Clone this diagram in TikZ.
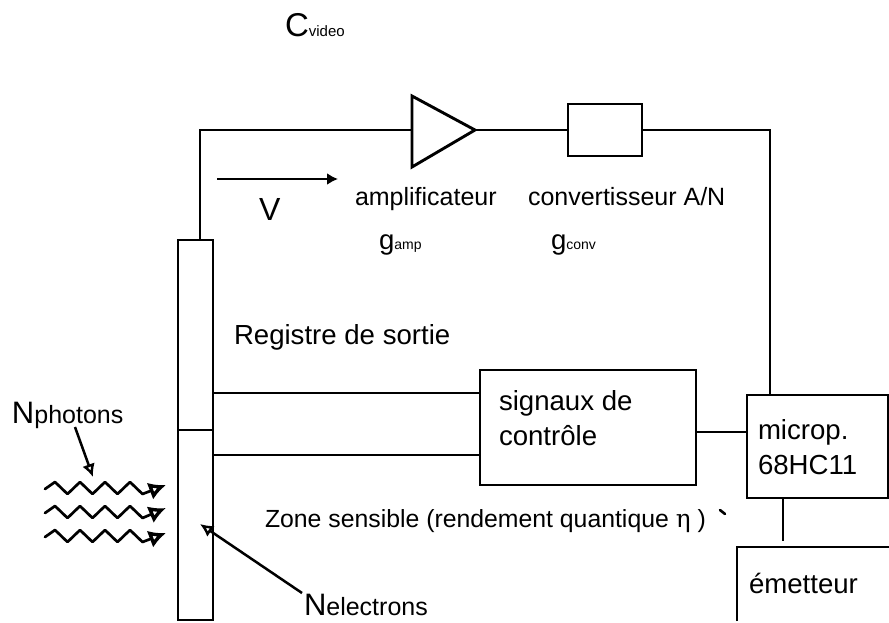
\documentclass[tikz,border=0pt]{standalone}
\usepackage{fontspec}
\setmainfont{Liberation Sans}
\usetikzlibrary{arrows.meta,calc}
\tikzset{
  wire/.style={line width=2.3pt,line join=miter},
  blockbox/.style={draw,line width=2.5pt,rectangle,inner sep=0,outer sep=0},
  lab/.style={inner sep=0,outer sep=0,anchor=base west,font=\fontsize{25}{30}\selectfont},
  biglab/.style={lab,font=\fontsize{27.6}{30}\selectfont},
  big/.style={lab,font=\fontsize{33}{36}\selectfont},
  small/.style={lab,font=\fontsize{15}{20}\selectfont},
  wave/.style={line width=2.7pt,line join=round,line cap=round,-{Latex[open,length=17pt,width=18pt,line width=3.4pt]}},
  pointer/.style={line width=2.5pt,-{Latex[open,length=13pt,width=13pt,line width=2.4pt]}},
}
\newcommand{\zz}[2]{\draw[wave] (#1) -- ++(10,-7) -- ++(12.5,12) -- ++(12.5,-12) -- ++(12.5,12) -- ++(12.5,-12) -- ++(12.5,12) -- ++(12.5,-12) -- ++(12.5,12) -- (#2);}
\begin{document}
\begin{tikzpicture}[x=1pt,y=-1pt,every node/.style={text=black}]
\useasboundingbox (0,0) rectangle (889,622);
% bar
\node[blockbox,minimum width=35pt,minimum height=380pt] (bar) at (195.5,430) {};
\draw[line width=1.8pt] (bar.west) -- (bar.east);
% amplifier
\coordinate (ampA) at (412,96);
\coordinate (ampB) at (412,167);
\coordinate (ampOut) at (475,130);
\coordinate (ampIn) at (412,130);
\draw[line width=2.9pt,line join=miter] (ampA) -- (ampOut) -- (ampB) -- cycle;
\node[blockbox,minimum width=74pt,minimum height=52pt] (conv) at (605,130) {};
\node[blockbox,minimum width=216pt,minimum height=115pt] (sig) at (588,427.5) {};
\node[blockbox,minimum width=141pt,minimum height=103pt] (micro) at (817.5,446.5) {};
% emitter (open at the image edges)
\coordinate (emA) at (737,621);
\coordinate (emB) at (737,547);
\coordinate (emC) at (889,547);
\draw[line width=2.5pt] (emA) -- (emB) -- (emC);
% wires
\coordinate (barTop) at (200,240);
\coordinate (microTop) at (770,395);
\coordinate (microBot) at (783,498);
\coordinate (emTop) at (783,541);
\draw[wire] (barTop) -- (200,130) -- (ampIn);
\draw[wire] (ampOut) -- (conv.west);
\draw[wire] (conv.east) -- (770,130) -- (microTop);
\draw[wire] (213,393) -- (480,393);
\draw[wire] (213,455) -- (480,455);
\draw[wire] (sig.east |- 0,432) -- (micro.west |- 0,432);
\draw[wire] (microBot) -- (emTop);
% V arrow
\coordinate (vA) at (217,179);
\coordinate (vB) at (338,179);
\draw[line width=2.6pt,-{Latex[length=11pt,width=12pt]}] (vA) -- (vB);
% photons
\coordinate (w1) at (45,489); \coordinate (w1e) at (166,485);
\coordinate (w2) at (45,513); \coordinate (w2e) at (166,508);
\coordinate (w3) at (45,537); \coordinate (w3e) at (166,533);
\zz{w1}{w1e}
\zz{w2}{w2e}
\zz{w3}{w3e}
% labels
\node[big] (cv) at (285,36) {C};
\node[small,anchor=base west] at (cv.base east) {video};
\node[big,font=\fontsize{32}{36}\selectfont] (v) at (259,220) {V};
\node[lab] (ampl) at (355,205) {amplificateur};
\node[lab] (convl) at (528,205) {convertisseur A/N};
\node[biglab] (ga) at (379,249) {g};
\node[small,font=\fontsize{14}{18}\selectfont,anchor=base west] at (ga.base east) {amp};
\node[biglab] (gc) at (551,249) {g};
\node[small,font=\fontsize{14}{18}\selectfont,anchor=base west] at (gc.base east) {conv};
\node[biglab] (reg) at (234,344) {Registre de sortie};
\node[biglab] (s1) at (499,410) {signaux de};
\node[biglab] (s2) at (499,445) {contrôle};
\node[biglab] (m1) at (758,439) {microp.};
\node[biglab] (m2) at (758,474) {68HC11};
\node[biglab] (em) at (749,593) {émetteur};
\node[lab,font=\fontsize{24.8}{28}\selectfont] (zone) at (265,527) {Zone sensible (rendement quantique {\fontspec{DejaVu Serif}η} )};
\node[big,font=\fontsize{31}{36}\selectfont] (np) at (12,423) {N};
\node[lab] (npl) at (np.base east) {photons};
\node[big,font=\fontsize{31}{36}\selectfont] (ne) at (304,615) {N};
\node[lab] (nel) at (ne.base east) {electrons};
% pointers
\draw[pointer] (75,427) -- (93,477);
\draw[pointer] (302,593) -- (200,524);
\draw[line width=2.6pt,line cap=round] (720,510) -- (725,514);
\end{tikzpicture}
\end{document}
